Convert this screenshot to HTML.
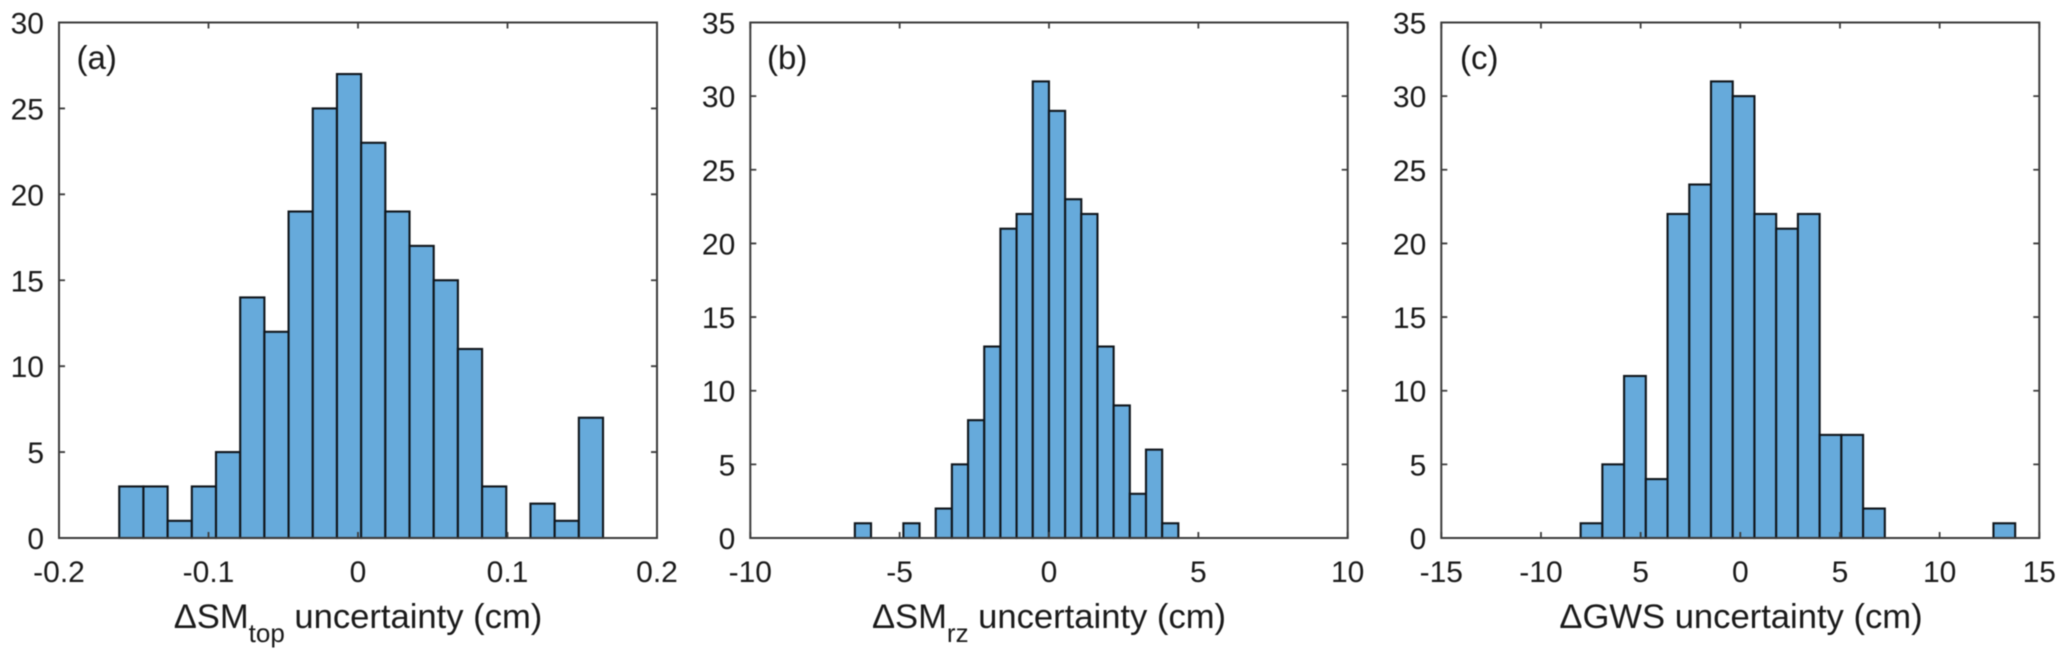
<!DOCTYPE html>
<html lang="en">
<head>
<meta charset="utf-8">
<title>Uncertainty histograms</title>
<style>
html,body{margin:0;padding:0;background:#fff;width:2067px;height:662px;overflow:hidden}
svg{display:block;filter:blur(0.45px)}
text{font-family:"Liberation Sans",sans-serif;fill:#1a1a1a}
.tick{font-size:30px}
.xlabel{font-size:34.6px}
.sub{font-size:26px}
.panel{font-size:33px}
</style>
</head>
<body>
<svg id="chart" width="2067" height="662" viewBox="0 0 2067 662" xmlns="http://www.w3.org/2000/svg">
  <g id="panel-a"></g>
  <g id="panel-b"></g>
  <g id="panel-c"></g>
  <text class="panel" x="76.5" y="69">(a)</text>
  <text class="panel" x="767" y="69">(b)</text>
  <text class="panel" x="1460" y="69">(c)</text>
  <text class="xlabel" x="358" y="628" text-anchor="middle">ΔSM<tspan class="sub" dy="14">top</tspan><tspan dy="-14"> uncertainty (cm)</tspan></text>
  <text class="xlabel" x="1049" y="628" text-anchor="middle">ΔSM<tspan class="sub" dy="14">rz</tspan><tspan dy="-14"> uncertainty (cm)</tspan></text>
  <text class="xlabel" x="1741" y="628" text-anchor="middle">ΔGWS uncertainty (cm)</text>
</svg>
<script>
var aCounts = [3,3,1,3,5,14,12,19,25,27,23,19,17,15,11,3,0,2,1,7];
var aBinStart = -0.1597;
var aBinWidth = 0.01618;
var aXTicks = [-0.2,-0.1,0,0.1,0.2];
var aXLabels = ["-0.2","-0.1","0","0.1","0.2"];
var aYTicks = [0,5,10,15,20,25,30];
var aYLabels = ["0","5","10","15","20","25","30"];

var bCounts = [1,0,0,1,0,2,5,8,13,21,22,31,29,23,22,13,9,3,6,1];
var bBinStart = -6.50;
var bBinWidth = 0.5415;
var bXTicks = [-10,-5,0,5,10];
var bXLabels = ["-10","-5","0","5","10"];
var bYTicks = [0,5,10,15,20,25,30,35];
var bYLabels = ["0","5","10","15","20","25","30","35"];

var cCounts = [1,5,11,4,22,24,31,30,22,21,22,7,7,2,0,0,0,0,0,1];
var cBinStart = -8.01;
var cBinWidth = 1.09;
var cXTicks = [-15,-10,-5,0,5,10,15];
var cXLabels = ["-15","-10","5","0","5","10","15"];
var cYTicks = [0,5,10,15,20,25,30,35];
var cYLabels = ["0","5","10","15","20","25","30","35"];

var NS = "http://www.w3.org/2000/svg";
var TOP = 22.5, BOTTOM = 538, TICK_LEN = 6;

function make(tag, attrs, parent) {
  var el = document.createElementNS(NS, tag);
  for (var k in attrs) el.setAttribute(k, attrs[k]);
  parent.appendChild(el);
  return el;
}

function drawPanel(id, left, right, counts, binStart, binWidth, xTicks, xLabels, yTicks, yLabels) {
  var g = document.getElementById(id);
  var xMin = xTicks[0], xMax = xTicks[xTicks.length - 1];
  var yMin = yTicks[0], yMax = yTicks[yTicks.length - 1];
  function sx(v) { return left + (v - xMin) / (xMax - xMin) * (right - left); }
  function sy(v) { return BOTTOM - (v - yMin) / (yMax - yMin) * (BOTTOM - TOP); }

  counts.forEach(function (c, i) {
    var x0 = sx(binStart + i * binWidth), x1 = sx(binStart + (i + 1) * binWidth);
    var bar = make("rect", {x: x0, y: sy(c), width: x1 - x0, height: sy(0) - sy(c), fill: "#66aadb", stroke: "#10161c", "stroke-width": 2.1}, g);
    
    
  });

  var frame = make("rect", {x: left, y: TOP, width: right - left, height: BOTTOM - TOP, fill: "none", stroke: "#3c3c3c", "stroke-width": 2}, g);
  
  

  xTicks.forEach(function (t, i) {
    var x = sx(t);
    var tickMarks = make("path", {d: "M" + x + " " + BOTTOM + "V" + (BOTTOM - TICK_LEN) + "M" + x + " " + TOP + "V" + (TOP + TICK_LEN), stroke: "#3c3c3c", "stroke-width": 1.8, fill: "none"}, g);
    
    
    var label = make("text", {"class": "tick", x: x, y: 582, "text-anchor": "middle"}, g);
    label.textContent = xLabels[i];
    
    
  });

  yTicks.forEach(function (t, i) {
    var y = sy(t);
    var tickMarks = make("path", {d: "M" + left + " " + y + "H" + (left + TICK_LEN) + "M" + right + " " + y + "H" + (right - TICK_LEN), stroke: "#3c3c3c", "stroke-width": 1.8, fill: "none"}, g);
    
    
    var label = make("text", {"class": "tick", x: left - 15, y: y + 11, "text-anchor": "end"}, g);
    label.textContent = yLabels[i];
    
    
  });
}

drawPanel("panel-a", 59, 657, aCounts, aBinStart, aBinWidth, aXTicks, aXLabels, aYTicks, aYLabels);
drawPanel("panel-b", 750.3, 1347.7, bCounts, bBinStart, bBinWidth, bXTicks, bXLabels, bYTicks, bYLabels);
drawPanel("panel-c", 1441.3, 2039.3, cCounts, cBinStart, cBinWidth, cXTicks, cXLabels, cYTicks, cYLabels);
</script>
</body>
</html>
